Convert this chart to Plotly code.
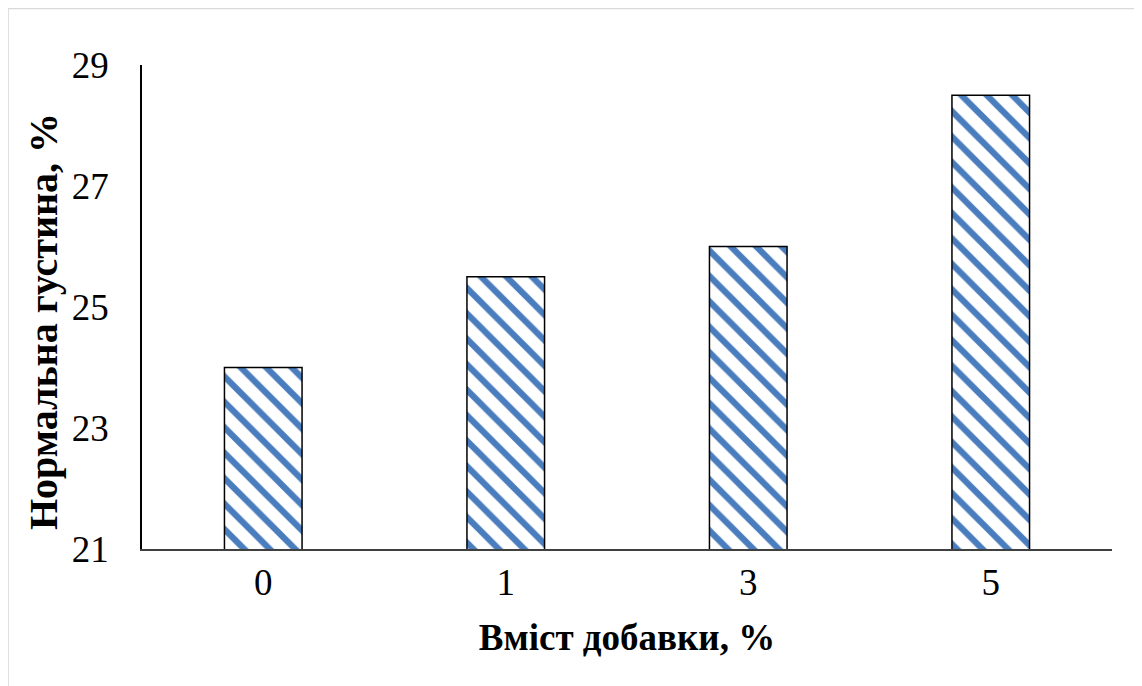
import plotly.graph_objects as go

categories = ["0", "1", "3", "5"]
values = [24.0, 25.5, 26.0, 28.5]
y_ticks = [21, 23, 25, 27, 29]

x_title = "Вміст добавки, %"
y_title = "Нормальна густина, %"

FONT = "Liberation Serif, Times New Roman, serif"

fig = go.Figure()
fig.add_trace(go.Bar(
    x=categories,
    y=values,
    width=0.32,
    marker=dict(
        color="white",
        line=dict(color="black", width=1.5),
        pattern=dict(shape="\\", fgcolor="#4a7dbd", bgcolor="white", fgopacity=1,
                     size=18, solidity=0.35, fillmode="replace"),
    ),
    showlegend=False,
))

fig.update_layout(
    width=1142, height=686,
    margin=dict(l=134, r=38, t=57, b=145),
    paper_bgcolor="white", plot_bgcolor="white",
    font=dict(family=FONT, size=37, color="black"),
)

fig.update_xaxes(
    type="category",
    showline=True, linecolor="#404040", linewidth=1.5,
    ticks="", showgrid=False, zeroline=False,
    tickfont=dict(family=FONT, size=37, color="black"),
    ticklabelstandoff=0,
    title=dict(text="<b>" + x_title + "</b>", font=dict(family=FONT, size=37, color="black"), standoff=22),
)
fig.update_yaxes(
    range=[21, 29], tickvals=y_ticks,
    showline=True, linecolor="black", linewidth=1.5,
    ticks="", showgrid=False, zeroline=False,
    tickfont=dict(family=FONT, size=37, color="black"),
    ticklabelstandoff=24,
)

# y-axis title (placed as rotated annotation to match reference position)
fig.add_annotation(
    text="<b>" + y_title + "</b>", textangle=-90,
    xref="paper", yref="paper", x=-0.102, y=0.469,
    xanchor="center", yanchor="middle", showarrow=False,
    font=dict(family=FONT, size=40, color="black"),
)

# outer chart border
fig.add_shape(type="rect", xref="paper", yref="paper",
              x0=-0.1381, x1=1.06, y0=-0.35, y1=1.1167,
              line=dict(color="#d9d9d9", width=1.5), fillcolor="rgba(0,0,0,0)", layer="below")

fig.write_html("out.html")
